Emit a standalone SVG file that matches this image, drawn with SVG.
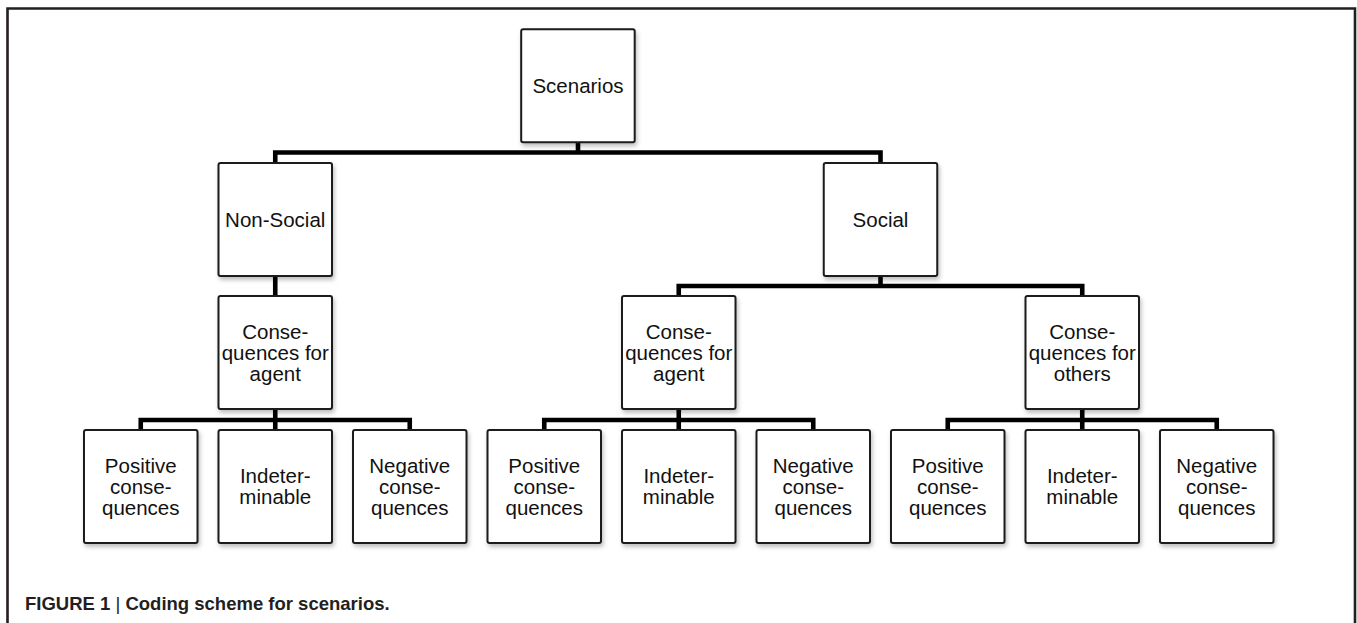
<svg xmlns="http://www.w3.org/2000/svg" width="1357" height="623" viewBox="0 0 1357 623">
<defs>
<filter id="sh" x="-10%" y="-10%" width="130%" height="130%">
<feDropShadow dx="1.5" dy="3" stdDeviation="2.2" flood-color="#000" flood-opacity="0.25"/>
</filter>
<style>
.box{fill:#fff;stroke:#1a1a1a;stroke-width:2;filter:url(#sh)}
.t{font-family:"Liberation Sans",Arial,sans-serif;font-size:20.5px;fill:#111;text-anchor:middle}
.c{fill:none;stroke:#000;stroke-width:4.6;stroke-linejoin:miter}
.frame{fill:none;stroke:#231f20;stroke-width:2.6}
.cap{font-family:"Liberation Sans",Arial,sans-serif;font-size:18.5px;font-weight:bold;fill:#231f20}
</style>
</defs>
<rect width="1357" height="623" fill="#fff"/>
<path class="frame" d="M7.5,623 V8.5 H1355 V623"/>

<g id="connectors">
<path class="c" d="M275.25,163 V152.5 H880.5 V163"/>
<path class="c" d="M578,142 V152.5"/>
<path class="c" d="M275.25,276 V296"/>
<path class="c" d="M678.75,296 V286 H1082.25 V296"/>
<path class="c" d="M880.5,276 V286"/>
<path class="c" d="M140.75,430 V420 H409.75 V430"/>
<path class="c" d="M275.25,409 V430"/>
<path class="c" d="M544.25,430 V420 H813.25 V430"/>
<path class="c" d="M678.75,409 V430"/>
<path class="c" d="M947.75,430 V420 H1216.75 V430"/>
<path class="c" d="M1082.25,409 V430"/>
</g>

<g id="n-scenarios">
<rect class="box" x="521.2" y="29.3" width="113.5" height="113" rx="2"/>
<text class="t" x="578" y="92.8">Scenarios</text>
</g>
<g id="n-nonsocial">
<rect class="box" x="218.5" y="163" width="113.5" height="113" rx="2"/>
<text class="t" x="275.25" y="226.5">Non-Social</text>
</g>
<g id="n-social">
<rect class="box" x="823.75" y="163" width="113.5" height="113" rx="2"/>
<text class="t" x="880.5" y="226.5">Social</text>
</g>
<g id="n-ns-agent">
<rect class="box" x="218.5" y="296" width="113.5" height="113" rx="2"/>
<text class="t" x="275.25" y="338.5">Conse-</text>
<text class="t" x="275.25" y="359.5">quences for</text>
<text class="t" x="275.25" y="380.5">agent</text>
</g>
<g id="n-s-agent">
<rect class="box" x="622" y="296" width="113.5" height="113" rx="2"/>
<text class="t" x="678.75" y="338.5">Conse-</text>
<text class="t" x="678.75" y="359.5">quences for</text>
<text class="t" x="678.75" y="380.5">agent</text>
</g>
<g id="n-s-others">
<rect class="box" x="1025.5" y="296" width="113.5" height="113" rx="2"/>
<text class="t" x="1082.25" y="338.5">Conse-</text>
<text class="t" x="1082.25" y="359.5">quences for</text>
<text class="t" x="1082.25" y="380.5">others</text>
</g>

<g id="n-ns-pos">
<rect class="box" x="84" y="430" width="113.5" height="113" rx="2"/>
<text class="t" x="140.75" y="472.5">Positive</text>
<text class="t" x="140.75" y="493.5">conse-</text>
<text class="t" x="140.75" y="514.5">quences</text>
</g>
<g id="n-ns-ind">
<rect class="box" x="218.5" y="430" width="113.5" height="113" rx="2"/>
<text class="t" x="275.25" y="483">Indeter-</text>
<text class="t" x="275.25" y="504">minable</text>
</g>
<g id="n-ns-neg">
<rect class="box" x="353" y="430" width="113.5" height="113" rx="2"/>
<text class="t" x="409.75" y="472.5">Negative</text>
<text class="t" x="409.75" y="493.5">conse-</text>
<text class="t" x="409.75" y="514.5">quences</text>
</g>
<g id="n-sa-pos">
<rect class="box" x="487.5" y="430" width="113.5" height="113" rx="2"/>
<text class="t" x="544.25" y="472.5">Positive</text>
<text class="t" x="544.25" y="493.5">conse-</text>
<text class="t" x="544.25" y="514.5">quences</text>
</g>
<g id="n-sa-ind">
<rect class="box" x="622" y="430" width="113.5" height="113" rx="2"/>
<text class="t" x="678.75" y="483">Indeter-</text>
<text class="t" x="678.75" y="504">minable</text>
</g>
<g id="n-sa-neg">
<rect class="box" x="756.5" y="430" width="113.5" height="113" rx="2"/>
<text class="t" x="813.25" y="472.5">Negative</text>
<text class="t" x="813.25" y="493.5">conse-</text>
<text class="t" x="813.25" y="514.5">quences</text>
</g>
<g id="n-so-pos">
<rect class="box" x="891" y="430" width="113.5" height="113" rx="2"/>
<text class="t" x="947.75" y="472.5">Positive</text>
<text class="t" x="947.75" y="493.5">conse-</text>
<text class="t" x="947.75" y="514.5">quences</text>
</g>
<g id="n-so-ind">
<rect class="box" x="1025.5" y="430" width="113.5" height="113" rx="2"/>
<text class="t" x="1082.25" y="483">Indeter-</text>
<text class="t" x="1082.25" y="504">minable</text>
</g>
<g id="n-so-neg">
<rect class="box" x="1160" y="430" width="113.5" height="113" rx="2"/>
<text class="t" x="1216.75" y="472.5">Negative</text>
<text class="t" x="1216.75" y="493.5">conse-</text>
<text class="t" x="1216.75" y="514.5">quences</text>
</g>

<text class="cap" x="25" y="610">FIGURE 1 <tspan font-weight="normal">|</tspan> Coding scheme for scenarios.</text>
</svg>
